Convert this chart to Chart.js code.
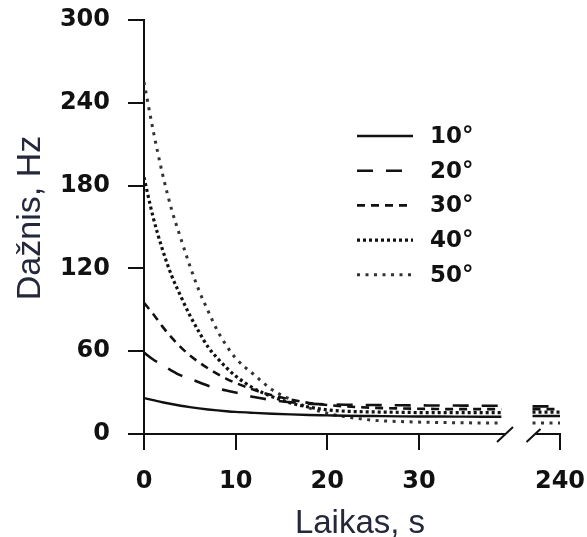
<!DOCTYPE html>
<html><head><meta charset="utf-8">
<script src="https://cdn.jsdelivr.net/npm/chart.js@4.4.0/dist/chart.umd.min.js"></script>
<style>html,body{margin:0;padding:0;background:#fff;}#wrap{width:587px;height:537px;}</style>
</head><body><div id="wrap"><canvas id="c" width="587" height="537"></canvas></div>
<script>
// ---- data ----
const seriesLabels = ['10°', '20°', '30°', '40°', '50°'];
const timesMain = [0, 1, 2, 3, 4, 5, 6, 7, 8, 9, 10, 12, 14, 16, 18, 20, 22, 25, 28, 31, 34, 37, 39];
const timesEnd = [237, 240];
const v10 = [26, 24.5, 23, 21.7, 20.5, 19.5, 18.6, 17.8, 17.1, 16.5, 16, 15.3, 14.7, 14.2, 13.8, 13.5, 13.2, 13, 12.8, 12.7, 12.6, 12.5, 12.5];
const v20 = [59, 54, 50, 46, 42.5, 40, 37.5, 35, 33, 31.5, 30, 26.8, 24.6, 23, 22, 21.5, 21.2, 21, 20.8, 20.7, 20.6, 20.5, 20.5];
const v30 = [95, 87, 78, 70, 63, 57, 52, 47.5, 43.5, 40, 37, 32, 28, 25, 22.5, 21, 20, 19, 18.5, 18.2, 18, 18, 18];
const v40 = [186, 157, 134, 115, 100, 86, 74, 63, 55, 48, 42, 33, 27, 22.5, 19.5, 17.5, 16.5, 16, 15.7, 15.5, 15.5, 15.5, 15.5];
const v50 = [255, 220, 189, 163, 142, 122, 104, 89, 75, 64, 55, 43, 32, 25, 19, 15, 12.5, 10, 9, 8.5, 8.2, 8, 8];
const v10End = [13, 13];
const v20End = [20, 20];
const v30End = [18, 18];
const v40End = [15.8, 15.8];
const v50End = [8, 8];
const yTicks = [0, 60, 120, 180, 240, 300];
const xTicks = [0, 10, 20, 30, 240];
const xTitle = 'Laikas, s';
const yTitle = 'Dažnis, Hz';

// ---- broken time axis ----
const BREAK_FROM = 40;      // seconds
const BREAK_SHIFT = 194.6;  // seconds removed by the break
function toAxis(t) { return t > BREAK_FROM ? t - BREAK_SHIFT : t; }
const AXIS_LEFT_END = 39.4;   // where the left axis piece stops (s)
const AXIS_RIGHT_START = 237; // where the right axis piece starts (s)

const styles = [
  { dash: [], width: 2.4, color: '#111' },
  { dash: [16, 13], width: 2.6, color: '#111' },
  { dash: [8, 6], width: 2.6, color: '#111' },
  { dash: [3, 3], width: 3.2, color: '#111' },
  { dash: [3, 5.5], width: 3, color: '#333' }
];
const mainVals = [v10, v20, v30, v40, v50];
const endVals = [v10End, v20End, v30End, v40End, v50End];

const datasets = seriesLabels.map((lab, i) => {
  const pts = timesMain.map((t, k) => ({ x: toAxis(t), y: mainVals[i][k] }));
  pts.push({ x: toAxis(BREAK_FROM) + 1, y: null });
  timesEnd.forEach((t, k) => pts.push({ x: toAxis(t), y: endVals[i][k] }));
  return {
    label: lab, data: pts,
    borderColor: styles[i].color, borderWidth: styles[i].width, borderDash: styles[i].dash,
    pointRadius: 0, fill: false, spanGaps: false,
    cubicInterpolationMode: 'monotone'
  };
});

const decorPlugin = {
  id: 'decor',
  afterDraw(chart) {
    const ctx = chart.ctx, xs = chart.scales.x, ca = chart.chartArea;
    const y0 = ca.bottom;
    ctx.save();
    ctx.strokeStyle = '#111'; ctx.lineWidth = 2; ctx.setLineDash([]);
    const xa = xs.getPixelForValue(0) - 1, xb = xs.getPixelForValue(toAxis(AXIS_LEFT_END));
    const xc = xs.getPixelForValue(toAxis(AXIS_RIGHT_START)), xd = xs.getPixelForValue(toAxis(240)) + 1;
    ctx.beginPath();
    ctx.moveTo(xa, y0); ctx.lineTo(xb, y0);
    ctx.moveTo(xb - 8, y0 + 8); ctx.lineTo(xb + 8, y0 - 7);
    ctx.moveTo(xc - 6, y0 + 8); ctx.lineTo(xc + 8, y0 - 5);
    ctx.moveTo(xc + 2, y0); ctx.lineTo(xd, y0);
    ctx.stroke();
    // legend
    ctx.font = 'bold 23px "DejaVu Sans"'; ctx.fillStyle = '#111';
    ctx.textAlign = 'left'; ctx.textBaseline = 'middle';
    chart.data.datasets.forEach((ds, i) => {
      const ry = 136 + i * 34.7;
      ctx.beginPath();
      ctx.strokeStyle = ds.borderColor; ctx.lineWidth = ds.borderWidth; ctx.setLineDash(ds.borderDash);
      ctx.moveTo(357, ry); ctx.lineTo(413, ry); ctx.stroke();
      ctx.fillText(ds.label, 430, ry + 1);
    });
    ctx.setLineDash([]);
    // axis titles
    ctx.fillStyle = '#24283a';
    ctx.font = '33px "Liberation Sans"';
    ctx.textAlign = 'center'; ctx.textBaseline = 'alphabetic';
    ctx.fillText(xTitle, 360, 533);
    ctx.translate(40, 218); ctx.rotate(-Math.PI / 2);
    ctx.font = '34px "Liberation Sans"';
    ctx.fillText(yTitle, 0, 0);
    ctx.restore();
  }
};

function zeroPad(s) { s.paddingTop = 0; s.paddingBottom = 0; s.paddingLeft = 0; s.paddingRight = 0; }

new Chart(document.getElementById('c'), {
  type: 'line',
  data: { datasets },
  plugins: [decorPlugin],
  options: {
    responsive: false, animation: false, devicePixelRatio: 1,
    layout: { padding: { top: 20, right: 27, bottom: 0, left: 0 } },
    plugins: { legend: { display: false }, tooltip: { enabled: false } },
    scales: {
      x: {
        type: 'linear', min: 0, max: toAxis(240),
        afterFit(s) { s.height = 103; zeroPad(s); },
        afterBuildTicks(s) { s.ticks = xTicks.map(t => ({ value: toAxis(t) })); },
        ticks: { callback: (v, i) => String(xTicks[i]), font: { family: 'DejaVu Sans', size: 24, weight: 'bold' }, color: '#111', padding: 17, maxRotation: 0, autoSkip: false },
        grid: { drawOnChartArea: false, drawTicks: true, tickLength: 16, color: '#111', lineWidth: 2 },
        border: { display: false }
      },
      y: {
        min: 0, max: 300,
        afterFit(s) { s.width = 144; zeroPad(s); },
        afterBuildTicks(s) { s.ticks = yTicks.map(v => ({ value: v })); },
        ticks: { font: { family: 'DejaVu Sans', size: 24, weight: 'bold' }, color: '#111', padding: 18 },
        grid: { drawOnChartArea: false, drawTicks: true, tickLength: 16, color: '#111', lineWidth: 2 },
        border: { display: true, color: '#111', width: 2 }
      }
    }
  }
});
</script></body></html>
